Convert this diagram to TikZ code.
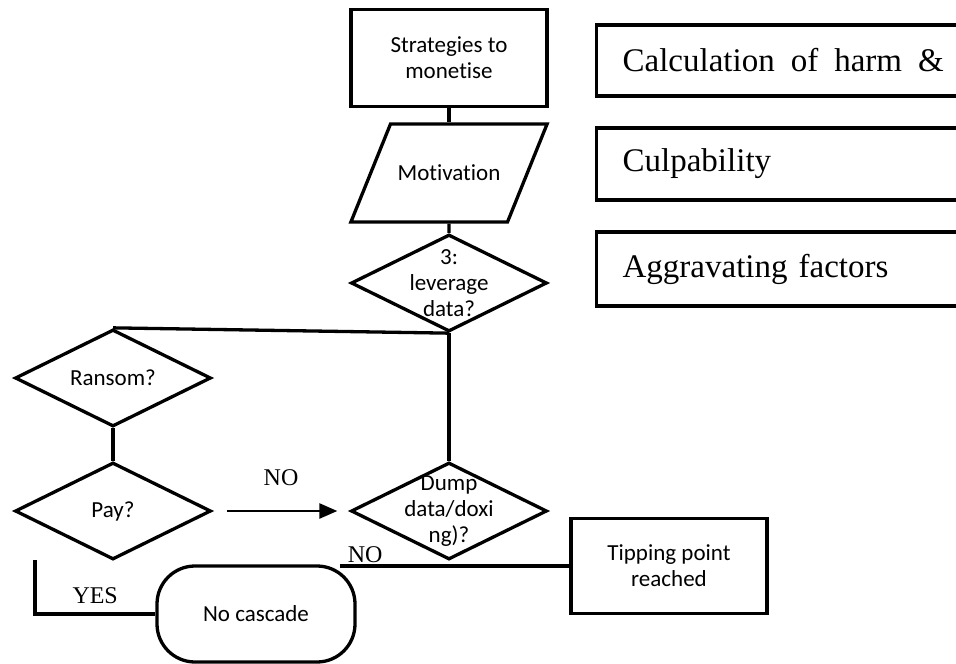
\documentclass[tikz,border=0pt]{standalone}
\usepackage{fontspec}
\setmainfont{Carlito}[Ligatures=NoCommon]
\newfontfamily\timesfont{Liberation Serif}
\usetikzlibrary{positioning,shapes.geometric,arrows.meta}

\begin{document}
\begin{tikzpicture}[x=1pt, y=-1pt, on grid, line width=3.3pt,
    box/.style={draw, rectangle, minimum width=196pt, minimum height=97pt, align=center, font=\fontsize{23}{26}\selectfont},
    decision/.style={draw, diamond, inner sep=0pt, minimum width=196pt, minimum height=97pt},
    qtext/.style={align=center, font=\fontsize{23}{26}\selectfont},
    notebox/.style={draw, rectangle, anchor=west, text width=340pt, inner xsep=26pt, minimum height=72pt, align=left, font=\timesfont\fontsize{33}{38}\selectfont},
    answer/.style={font=\timesfont\fontsize{24}{28}\selectfont}]
            \useasboundingbox (0,0) rectangle (956,664);
            \clip (0,0) rectangle (956,664);

            \node [box] (strat) at (449,58) {Strategies to\\monetise};
            \node [draw, trapezium, trapezium left angle=68, trapezium right angle=112, text width=104pt, align=center, text height=15pt, text depth=0pt, inner xsep=6.5pt, inner ysep=41.5pt, font=\fontsize{23}{26}\selectfont, below=115pt of strat] (motiv) {Motivation};
            \node [decision, label={[qtext]center:{3:\\leverage\\data?}}, below=110pt of motiv] (lev) {};
            \node [decision, label={[qtext]center:{Dump\\data/doxi\\ng)?}}, below=228pt of lev] (dump) {};

            \node [decision, label={[qtext]center:{Ransom?}}] (ransom) at (113,378) {};
            \node [decision, label={[qtext]center:{Pay?}}, below=133pt of ransom] (pay) {};

            \node [box, minimum height=95pt] (tip) at (669,566) {Tipping point\\reached};
            \node [draw, rectangle, rounded corners=38pt, minimum width=198pt, minimum height=96pt, font=\fontsize{23}{26}\selectfont] (nocasc) at (256,614) {No cascade};

            \node [notebox, minimum height=71pt] (harm) at (595,60.5) {\spaceskip=16pt\relax Calculation of harm \&};
            \node [notebox] (culp) at (595,164) {Culpability};
            \node [notebox, minimum height=74pt] (aggr) at (595,269) {Aggravating factors};

            \draw (strat) -- (motiv);
            \draw (motiv) -- (lev);
            \draw (ransom.north) -- (lev.south);
            \draw (lev) -- (dump);
            \draw (ransom) -- (pay);
            \draw [-{Triangle[length=18pt, width=15pt]}, line width=2.6pt, shorten <=14pt, shorten >=12pt] (pay) -- node [answer, yshift=33pt] {NO} (dump);

            \coordinate (nostart) at (340,566);
            \draw (nostart) -- node [answer, pos=0.11, yshift=11pt] {NO} (tip.west);
            \coordinate (yesstart) at (35,560);
            \draw (yesstart) |- node [answer, pos=0.75, yshift=18pt] {YES} (nocasc.west);
        \end{tikzpicture}
\end{document}
